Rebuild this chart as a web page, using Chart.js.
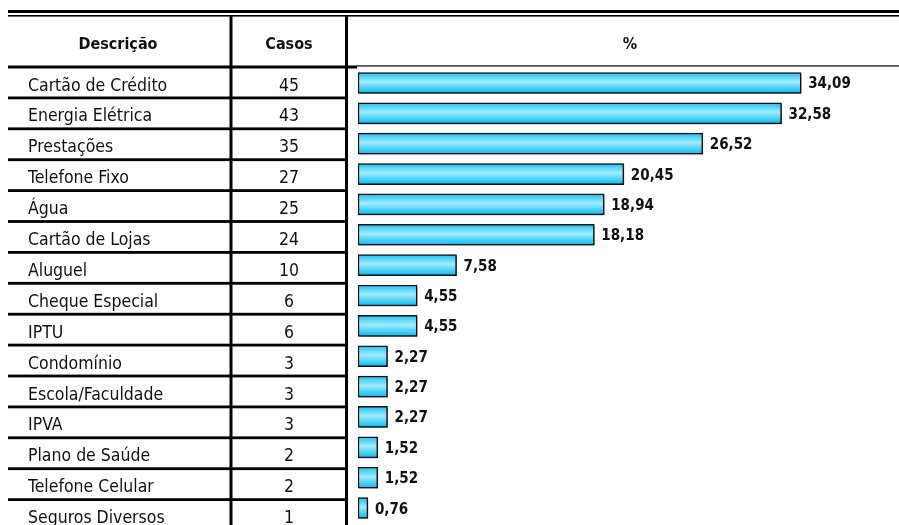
<!DOCTYPE html>
<html lang="pt-BR">
<head>
<meta charset="utf-8">
<title>Casos por descrição</title>
<script src="https://cdn.jsdelivr.net/npm/chart.js@4.4.1/dist/chart.umd.min.js"></script>
<style>
    html, body { margin: 0; padding: 0; background: #fff; }
    #wrap { position: relative; width: 899px; height: 525px; overflow: hidden; }
</style>
</head>
<body>
<div id="wrap"><canvas id="char_dividas" width="899" height="525"></canvas></div>
<script>
const descricoes = [
    "Cartão de Crédito",
    "Energia Elétrica",
    "Prestações",
    "Telefone Fixo",
    "Água",
    "Cartão de Lojas",
    "Aluguel",
    "Cheque Especial",
    "IPTU",
    "Condomínio",
    "Escola/Faculdade",
    "IPVA",
    "Plano de Saúde",
    "Telefone Celular",
    "Seguros Diversos",
];
const casos = [45, 43, 35, 27, 25, 24, 10, 6, 6, 3, 3, 3, 2, 2, 1];
const percentuais = [
    34.09, 32.58, 26.52, 20.45, 18.94, 18.18, 7.58, 4.55, 4.55, 2.27, 2.27,
    2.27, 1.52, 1.52, 0.76,
];
const cabecalho = ["Descrição", "Casos", "%"];

const FONTE = '"DejaVu Sans Condensed", "DejaVu Sans", sans-serif';

// table on the left, drawn under the bars
const tabelaPlugin = {
    id: "tabela",
    beforeDraw(chart) {
        const ctx = chart.ctx;
        const W = chart.width;
        const H = chart.height;
        const topo = 67; // linha abaixo do cabeçalho
        const linha = 30.9;

        ctx.save();
        ctx.fillStyle = "#000";
        // linha dupla no topo
        ctx.fillRect(8, 10, W - 8, 3);
        ctx.fillRect(8, 15, W - 8, 1.6);
        // colunas
        ctx.fillRect(229.5, 16, 3, H - 16);
        ctx.fillRect(345, 16, 3, H - 16);
        // fim do cabeçalho
        ctx.fillRect(8, topo - 1.5, 349, 3);
        ctx.fillStyle = "#555";
        ctx.fillRect(357, topo - 2, W - 357, 1.8);

        ctx.fillStyle = "#000";
        for (let i = 1; i < descricoes.length; i++) {
            const y = topo + i * linha;
            ctx.fillRect(8, y - 1.4, 339, 2.8);
        }

        ctx.fillStyle = "#111";
        ctx.textBaseline = "alphabetic";
        ctx.font = "bold 16px " + FONTE;
        ctx.textAlign = "center";
        ctx.fillText(cabecalho[0], 118, 49);
        ctx.fillText(cabecalho[1], 289, 49);
        ctx.fillText(cabecalho[2], 630, 49);

        ctx.font = "17.5px " + FONTE;
        descricoes.forEach((d, i) => {
            const base = topo + i * linha + 23.5;
            ctx.textAlign = "left";
            ctx.fillText(d, 28, base);
            ctx.textAlign = "center";
            ctx.fillText(String(casos[i]), 289, base);
        });
        ctx.restore();
    },
    beforeDatasetsDraw(chart) {
        const ctx = chart.ctx;
        ctx.save();
        ctx.shadowColor = "rgba(0,0,0,0.28)";
        ctx.shadowOffsetX = 1.5;
        ctx.shadowOffsetY = 1.5;
        ctx.shadowBlur = 0;
    },
    afterDatasetsDraw(chart) {
        const ctx = chart.ctx;
        ctx.restore();

        ctx.save();
        ctx.fillStyle = "#111";
        ctx.font = "bold 15px " + FONTE;
        ctx.textAlign = "left";
        ctx.textBaseline = "alphabetic";
        const meta = chart.getDatasetMeta(0);
        meta.data.forEach((bar, i) => {
            const txt = percentuais[i].toFixed(2).replace(".", ",");
            ctx.fillText(txt, bar.x + 7, bar.y + 5.5);
        });
        ctx.restore();
    },
};

const gradienteBarra = (context) => {
    const chart = context.chart;
    if (!chart.chartArea) {
        return "#33ccff";
    }
    const yc = chart.scales.y.getPixelForValue(context.dataIndex);
    const g = chart.ctx.createLinearGradient(0, yc - 10.5, 0, yc + 10.5);
    g.addColorStop(0, "#1cc2f2");
    g.addColorStop(0.45, "#a2ebff");
    g.addColorStop(1, "#00baee");
    return g;
};

const chartEl = document.getElementById("char_dividas");
if (chartEl != null) {
    new Chart(chartEl.getContext("2d"), {
        type: "bar",
        data: {
            labels: descricoes,
            datasets: [
                {
                    label: "%",
                    data: percentuais,
                    backgroundColor: gradienteBarra,
                    borderColor: "#111",
                    borderWidth: 1.5,
                    borderSkipped: false,
                    barThickness: 21,
                },
            ],
        },
        options: {
            indexAxis: "y",
            responsive: false,
            animation: false,
            layout: {
                padding: { left: 358, right: 8, top: 67.8, bottom: 1.8 },
            },
            plugins: {
                legend: { display: false },
                tooltip: { enabled: false },
            },
            scales: {
                x: { display: false, min: 0, max: 41 },
                y: { display: false },
            },
        },
        plugins: [tabelaPlugin],
    });
}
</script>
</body>
</html>
